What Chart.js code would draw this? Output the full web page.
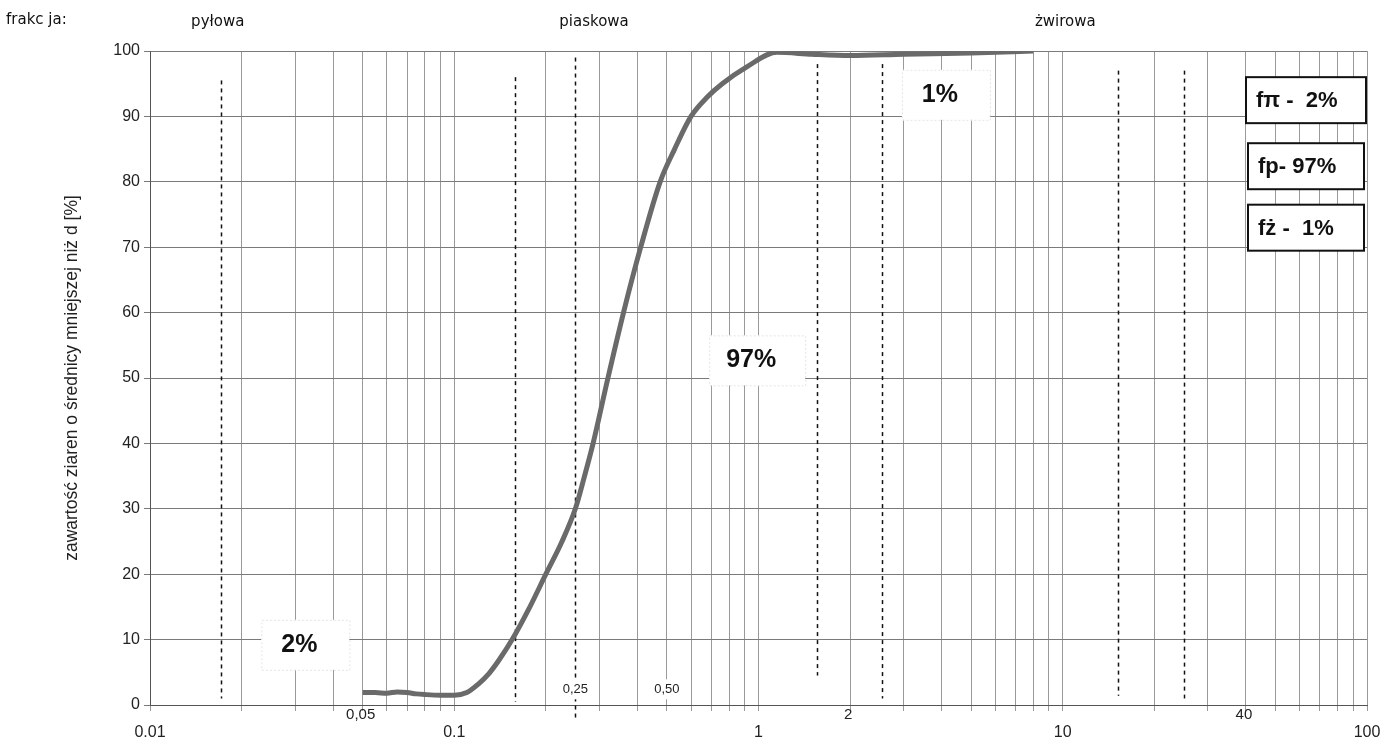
<!DOCTYPE html>
<html>
<head>
<meta charset="utf-8">
<script src="https://cdn.jsdelivr.net/npm/chart.js@4/dist/chart.umd.min.js"></script>
<style>
  html, body { margin: 0; padding: 0; background: #fff; }
  #wrap { width: 1400px; height: 747px; position: relative; }
</style>
</head>
<body>
<div id="wrap"><canvas id="sieve" width="1400" height="747"></canvas></div>
<script>
// grain size curve (d in mm, % passing)
const diameters = [0.05, 0.055, 0.06, 0.065, 0.07, 0.075, 0.08, 0.09, 0.1, 0.11, 0.12, 0.13, 0.14, 0.155,
    0.175, 0.2, 0.225, 0.25, 0.268, 0.286, 0.32, 0.36, 0.41, 0.475, 0.53, 0.6, 0.68, 0.76, 0.91, 1.15, 1.5, 2, 3, 5, 8];
const passing = [1.9, 1.9, 1.8, 2.0, 1.9, 1.7, 1.6, 1.5, 1.5, 1.9, 3.2, 4.8, 6.8, 10,
    14.5, 20, 24.8, 30, 35, 40, 50, 60, 70, 80, 85, 90, 93, 95, 97.5, 99.8, 99.5, 99.3, 99.5, 99.7, 100];

const majorTickValues = [0.01, 0.1, 1, 10, 100];
const majorTickLabels = ['0.01', '0.1', '1', '10', '100'];
const extraTickValues = [0.05, 2, 40];
const extraTickLabels = ['0,05', '2', '40'];
const innerTickValues = [0.25, 0.5];
const innerTickLabels = ['0,25', '0,50'];

// fraction boundaries (dashed)
const boundaryValues = [0.0171, 0.158, 0.25, 1.56, 2.55, 15.2, 25];
const boundaryTop = [95.5, 96, 99, 98, 98, 97, 97];
const boundaryBottom = [1, 0.5, -2, 4.5, 1, 1.4, 1];

const fractionNames = ['pyłowa', 'piaskowa', 'żwirowa'];
const fractionAt = [0.0167, 0.288, 10.2];

const shareLabels = ['2%', '97%', '1%'];
const shareX = [0.0324, 0.99, 4.13];
const shareY = [9.2, 52.7, 93.3];

const summaryLabels = ['fπ -  2%', 'fp- 97%', 'fż -  1%'];
const summaryTop = [96, 85.9, 76.5];

const gridValues = [];
for (let e = -2; e <= 1; e++) {
    for (let s = 1; s <= 9; s++) gridValues.push(Number((s * Math.pow(10, e)).toPrecision(3)));
}
gridValues.push(100);

function labelFor(v) {
    const i = majorTickValues.findIndex(m => Math.abs(m - v) < 1e-9);
    return i >= 0 ? majorTickLabels[i] : '';
}

const overlay = {
    id: 'overlay',
    beforeDatasetsDraw(chart) {
        const { ctx, chartArea: a, scales: { x, y } } = chart;
        ctx.save();
        // dashed fraction boundaries
        ctx.strokeStyle = '#111';
        ctx.lineWidth = 1.5;
        ctx.setLineDash([4, 4]);
        boundaryValues.forEach((v, i) => {
            const px = Math.round(x.getPixelForValue(v)) + 0.5;
            ctx.beginPath();
            ctx.moveTo(px, y.getPixelForValue(boundaryTop[i]));
            ctx.lineTo(px, y.getPixelForValue(boundaryBottom[i]));
            ctx.stroke();
        });
        ctx.setLineDash([]);
        // share boxes
        ctx.font = 'bold 25px "Liberation Sans", Arial, sans-serif';
        ctx.textAlign = 'center';
        ctx.textBaseline = 'middle';
        shareLabels.forEach((t, i) => {
            const cx = x.getPixelForValue(shareX[i]);
            const cy = y.getPixelForValue(shareY[i]);
            const w = t.length > 2 ? 96 : 88, h = 50;
            ctx.fillStyle = '#fff';
            ctx.fillRect(cx - w / 2, cy - h / 2, w, h);
            ctx.strokeStyle = '#e4e4e4';
            ctx.lineWidth = 1;
            ctx.setLineDash([2, 2]);
            ctx.strokeRect(cx - w / 2 + 0.5, cy - h / 2 + 0.5, w, h);
            ctx.setLineDash([]);
            ctx.fillStyle = '#111';
            ctx.fillText(t, cx - 6, cy);
        });
        // small in-plot labels
        ctx.font = '13px "Liberation Sans", Arial, sans-serif';
        innerTickValues.forEach((v, i) => {
            ctx.fillStyle = '#fff';
            ctx.fillRect(x.getPixelForValue(v) - 18, y.getPixelForValue(2.4) - 10, 36, 20);
            ctx.fillStyle = '#222';
            ctx.fillText(innerTickLabels[i], x.getPixelForValue(v), y.getPixelForValue(2.4));
        });
        ctx.restore();
    },
    afterDatasetsDraw(chart) {
        const { ctx, chartArea: a, scales: { x, y } } = chart;
        ctx.save();
        // summary boxes on the right
        ctx.font = 'bold 22px "Liberation Sans", Arial, sans-serif';
        ctx.textAlign = 'left';
        ctx.textBaseline = 'middle';
        summaryLabels.forEach((t, i) => {
            const top = y.getPixelForValue(summaryTop[i]);
            const w = i === 0 ? 120 : 116, h = 46;
            const left = a.right - 1 - w - (i === 0 ? 0 : 2);
            ctx.fillStyle = '#fff';
            ctx.fillRect(left, top, w, h);
            ctx.strokeStyle = '#111';
            ctx.lineWidth = 2;
            ctx.strokeRect(left, top, w, h);
            ctx.fillStyle = '#111';
            ctx.fillText(t, left + 10, top + h / 2 + 1);
        });
        // fraction names on top
        ctx.font = '15px "DejaVu Sans", sans-serif';
        ctx.textAlign = 'center';
        ctx.fillStyle = '#111';
        fractionNames.forEach((t, i) => ctx.fillText(t, x.getPixelForValue(fractionAt[i]), 22));
        ctx.textAlign = 'left';
        ctx.fillText('frakc ja:', 6, 20);
        // raised x labels
        ctx.font = '15px "Liberation Sans", Arial, sans-serif';
        ctx.textAlign = 'center';
        ctx.fillStyle = '#222';
        extraTickValues.forEach((v, i) => ctx.fillText(extraTickLabels[i], x.getPixelForValue(v) - 2, a.bottom + 10));
        // y axis title
        ctx.translate(72, (a.top + a.bottom) / 2);
        ctx.rotate(-Math.PI / 2);
        ctx.font = '17.5px "Liberation Sans", Arial, sans-serif';
        ctx.fillText('zawartość ziaren o średnicy mniejszej niż d [%]', 0, 0);
        ctx.restore();
    }
};

new Chart(document.getElementById('sieve'), {
    type: 'line',
    data: {
        datasets: [{
            data: diameters.map((d, i) => ({ x: d, y: passing[i] })),
            borderColor: '#6a6a6a',
            borderWidth: 5,
            pointRadius: 0,
            cubicInterpolationMode: 'monotone',
            fill: false,
        }],
    },
    options: {
        responsive: false,
        animation: false,
        layout: { padding: { top: 51, right: 33, left: 0, bottom: 0 } },
        plugins: { legend: { display: false }, tooltip: { enabled: false } },
        scales: {
            x: {
                type: 'logarithmic',
                min: 0.01,
                max: 100,
                afterBuildTicks: (scale) => {
                    scale.ticks = gridValues.map(v => ({ value: v, major: majorTickValues.includes(v) }));
                },
                afterFit: (scale) => { scale.height = 42; },
                grid: { color: '#9a9a9a', lineWidth: 1, tickLength: 6 },
                border: { color: '#555' },
                ticks: {
                    autoSkip: false,
                    maxRotation: 0,
                    padding: 12,
                    color: '#222',
                    font: { family: '"Liberation Sans", Arial, sans-serif', size: 16 },
                    callback: (v) => labelFor(v),
                },
            },
            y: {
                min: 0,
                max: 100,
                afterFit: (scale) => { scale.width = 150; },
                grid: { color: '#7a7a7a', lineWidth: 1, tickLength: 6 },
                border: { color: '#555' },
                ticks: {
                    stepSize: 10,
                    padding: 4,
                    color: '#222',
                    font: { family: '"Liberation Sans", Arial, sans-serif', size: 16 },
                },
            },
        },
    },
    plugins: [overlay],
});
</script>
</body>
</html>
